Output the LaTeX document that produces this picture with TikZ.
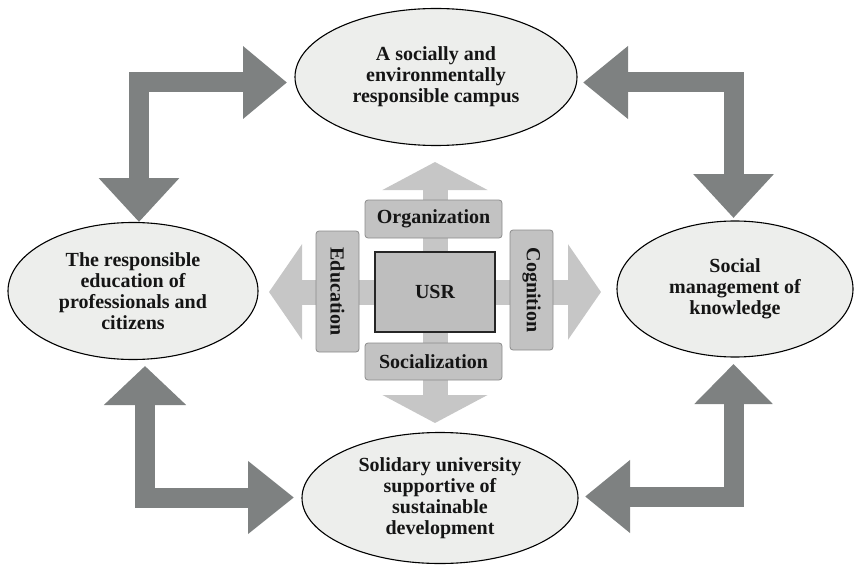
\documentclass[tikz,border=0pt]{standalone}
\usepackage{fontspec}
\setmainfont{Liberation Serif}
\usetikzlibrary{arrows.meta,shapes.geometric}
\definecolor{ellfill}{HTML}{EDEEEC}
\definecolor{darkarr}{HTML}{7E8181}
\definecolor{lightarr}{HTML}{C6C6C6}
\definecolor{tabfill}{HTML}{C2C2C2}
\definecolor{tabline}{HTML}{8C8C8C}
\definecolor{usrfill}{HTML}{BEBEBE}
\definecolor{txt}{HTML}{151515}
\tikzset{
  ell/.style={ellipse, draw=black, line width=1.1pt, fill=ellfill, inner sep=0pt,
    align=center, text=txt, font=\bfseries\fontsize{20}{21}\selectfont},
  tabbox/.style={draw=tabline, line width=0.8pt, fill=tabfill, rounded corners=3pt,
    inner sep=0pt, text=txt, font=\bfseries\fontsize{20}{21}\selectfont},
  usrbox/.style={draw=black!85, line width=1.5pt, fill=usrfill, inner sep=0pt,
    minimum width=120pt, minimum height=80pt, text=txt, font=\bfseries\fontsize{20}{21}\selectfont},
  darr/.style={draw=darkarr, line width=20pt, line join=miter},
  larr/.style={draw=lightarr, line width=25pt},
  vhead/.style={-{Triangle[length=28pt,width=104pt]}},
  hhead/.style={-{Triangle[length=33pt,width=94pt]}},
}
\begin{document}
\begin{tikzpicture}[x=1pt,y=-1pt]
\useasboundingbox (0,0) rectangle (858,564);
% ellipses
\node[ell, minimum width=282pt, minimum height=137pt] (top) at (436,77) {A socially and\\environmentally\\responsible campus};
\node[ell, minimum width=250pt, minimum height=137pt] (left) at (133,291) {The responsible\\education of\\professionals and\\citizens};
\node[ell, minimum width=236pt, minimum height=136pt] (right) at (735,289) {Social\\management of\\knowledge};
\node[ell, minimum width=276pt, minimum height=131pt] (bottom) at (440,498) {Solidary university\\supportive of\\sustainable\\development};
% tips of the dark arrows
\coordinate (tlA) at (287,82.5);
\coordinate (tlB) at (139,222);
\coordinate (trA) at (583,82.5);
\coordinate (trB) at (733.5,218);
\coordinate (blA) at (145,366);
\coordinate (blB) at (294,497.5);
\coordinate (brA) at (733.5,364);
\coordinate (brB) at (585,496.5);
\draw[darr, {Triangle[length=44pt,width=78pt]}-{Triangle[length=44pt,width=70pt]}] (tlB) |- (tlA);
\draw[darr, {Triangle[length=44pt,width=78pt]}-{Triangle[length=45pt,width=70pt]}] (trB) |- (trA);
\draw[darr, {Triangle[length=39pt,width=80pt]}-{Triangle[length=46pt,width=70pt]}] (blA) |- (blB);
\draw[darr, {Triangle[length=40pt,width=76pt]}-{Triangle[length=45pt,width=70pt]}] (brA) |- (brB);
% centre
\coordinate (c) at (435,292);
\coordinate (cu) at (435,162);
\coordinate (cd) at (435,423);
\coordinate (cl) at (269,292);
\coordinate (cr) at (601,292);
\draw[larr, vhead] (c) -- (cu);
\draw[larr, vhead] (c) -- (cd);
\draw[larr, hhead] (c) -- (cl);
\draw[larr, hhead] (c) -- (cr);
\node[usrbox] (usr) at (435,292) {USR};
\node[tabbox, minimum width=137pt, minimum height=38pt] (org) at (433.5,219) {Organization};
\node[tabbox, minimum width=137pt, minimum height=37pt] (soc) at (433.5,361.5) {Socialization};
\node[tabbox, minimum width=121pt, minimum height=43pt, rotate=-90] (edu) at (337.5,291.5) {Education};
\node[tabbox, minimum width=120pt, minimum height=43pt, rotate=-90] (cog) at (531.5,290) {Cognition};
\end{tikzpicture}
\end{document}
